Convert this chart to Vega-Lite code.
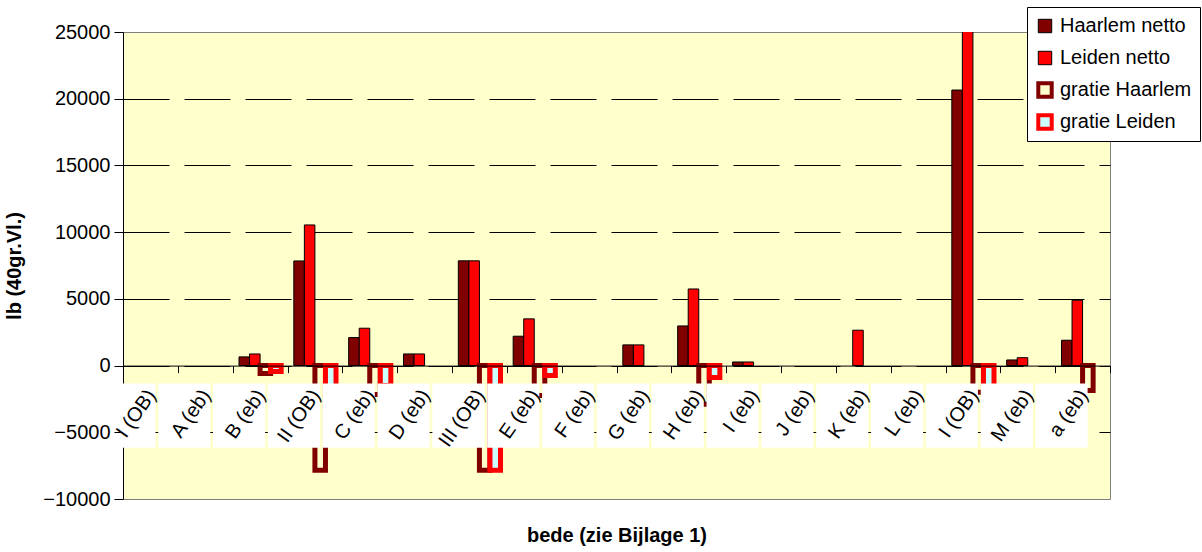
{
  "$schema": "https://vega.github.io/schema/vega-lite/v6.json",
  "autosize": {"type": "none"},
  "padding": {"left": 123, "top": 32, "right": 92, "bottom": 53},
  "width": 987,
  "height": 467,
  "background": "white",
  "config": {
    "font": "Liberation Sans",
    "view": {"fill": "#FFFFCC", "stroke": "#808080", "strokeWidth": 1}
  },
  "datasets": {
    "bede": [
      {"n": 1, "bede": "I (OB)"}, {"n": 2, "bede": "A (eb)"}, {"n": 3, "bede": "B (eb)"},
      {"n": 4, "bede": "II (OB)"}, {"n": 5, "bede": "C (eb)"}, {"n": 6, "bede": "D (eb)"},
      {"n": 7, "bede": "III (OB)"}, {"n": 8, "bede": "E (eb)"}, {"n": 9, "bede": "F (eb)"},
      {"n": 10, "bede": "G (eb)"}, {"n": 11, "bede": "H (eb)"}, {"n": 12, "bede": "I (eb)"},
      {"n": 13, "bede": "J (eb)"}, {"n": 14, "bede": "K (eb)"}, {"n": 15, "bede": "L (eb)"},
      {"n": 16, "bede": "I (OB)"}, {"n": 17, "bede": "M (eb)"}, {"n": 18, "bede": "a (eb)"}
    ],
    "waarden": [
      {"n": 3, "series": "Haarlem netto", "value": 650},
      {"n": 3, "series": "Leiden netto", "value": 870},
      {"n": 3, "series": "gratie Haarlem", "value": -600},
      {"n": 3, "series": "gratie Leiden", "value": -450},
      {"n": 4, "series": "Haarlem netto", "value": 7840},
      {"n": 4, "series": "Leiden netto", "value": 10540},
      {"n": 4, "series": "gratie Haarlem", "value": -7850},
      {"n": 4, "series": "gratie Leiden", "value": -3000},
      {"n": 5, "series": "Haarlem netto", "value": 2100},
      {"n": 5, "series": "Leiden netto", "value": 2800},
      {"n": 5, "series": "gratie Haarlem", "value": -2160},
      {"n": 5, "series": "gratie Leiden", "value": -1500},
      {"n": 6, "series": "Haarlem netto", "value": 870},
      {"n": 6, "series": "Leiden netto", "value": 870},
      {"n": 7, "series": "Haarlem netto", "value": 7850},
      {"n": 7, "series": "Leiden netto", "value": 7850},
      {"n": 7, "series": "gratie Haarlem", "value": -7850},
      {"n": 7, "series": "gratie Leiden", "value": -7850},
      {"n": 8, "series": "Haarlem netto", "value": 2200},
      {"n": 8, "series": "Leiden netto", "value": 3500},
      {"n": 8, "series": "gratie Haarlem", "value": -2240},
      {"n": 8, "series": "gratie Leiden", "value": -750},
      {"n": 10, "series": "Haarlem netto", "value": 1550},
      {"n": 10, "series": "Leiden netto", "value": 1550},
      {"n": 11, "series": "Haarlem netto", "value": 2970},
      {"n": 11, "series": "Leiden netto", "value": 5740},
      {"n": 11, "series": "gratie Haarlem", "value": -2900},
      {"n": 11, "series": "gratie Leiden", "value": -900},
      {"n": 12, "series": "Haarlem netto", "value": 270},
      {"n": 12, "series": "Leiden netto", "value": 270},
      {"n": 14, "series": "Leiden netto", "value": 2650},
      {"n": 16, "series": "Haarlem netto", "value": 20650},
      {"n": 16, "series": "Leiden netto", "value": 25500},
      {"n": 16, "series": "gratie Haarlem", "value": -2000},
      {"n": 16, "series": "gratie Leiden", "value": -1800},
      {"n": 17, "series": "Haarlem netto", "value": 420},
      {"n": 17, "series": "Leiden netto", "value": 590},
      {"n": 18, "series": "Haarlem netto", "value": 1900},
      {"n": 18, "series": "Leiden netto", "value": 4900},
      {"n": 18, "series": "gratie Haarlem", "value": -1870}
    ]
  },
  "layer": [
    {
      "data": {"name": "waarden"},
      "mark": {"type": "bar", "clip": true, "orient": "vertical"},
      "encoding": {
        "x": {
          "field": "n",
          "type": "ordinal",
          "scale": {"domain": [1,2,3,4,5,6,7,8,9,10,11,12,13,14,15,16,17,18], "paddingInner": 0, "paddingOuter": 0},
          "axis": {
            "orient": "bottom",
            "offset": -133.4,
            "zindex": 1,
            "grid": false,
            "domainColor": "black",
            "tickBand": "extent",
            "tickColor": "black",
            "tickSize": 7,
            "labels": false,
            "title": "bede (zie Bijlage 1)",
            "titleFontSize": 20,
            "titleFontWeight": "bold",
            "titleColor": "black",
            "titleY": 170,
            "titleBaseline": "middle"
          }
        },
        "xOffset": {
          "field": "series",
          "type": "nominal",
          "scale": {"domain": ["Haarlem netto", "Leiden netto", "gratie Haarlem", "gratie Leiden"], "paddingInner": 0, "paddingOuter": 0.6}
        },
        "y": {
          "field": "value",
          "type": "quantitative",
          "scale": {"domain": [-10000, 25000], "nice": false},
          "axis": {
            "title": "lb (40gr.Vl.)",
            "values": [-10000, -5000, 0, 5000, 10000, 15000, 20000, 25000],
            "format": "d",
            "labelFontSize": 20,
            "labelColor": "black",
            "labelPadding": 4,
            "domainColor": "black",
            "tickColor": "black",
            "tickSize": 9,
            "grid": true,
            "gridColor": "black",
            "gridDash": [46, 15],
            "gridWidth": 1,
            "gridOpacity": {"condition": {"test": "datum.value == -10000 || datum.value == 25000", "value": 0}, "value": 1},
            "titleFontSize": 20,
            "titleFontWeight": "bold",
            "titleColor": "black",
            "titlePadding": 18
          }
        },
        "fill": {
          "field": "series",
          "type": "nominal",
          "scale": {"domain": ["Haarlem netto", "Leiden netto", "gratie Haarlem", "gratie Leiden"], "range": ["#800000", "#FF0000", "#FFFFCC", "#CCFFFF"]},
          "legend": {
            "title": null, "orient": "none", "legendX": 904, "legendY": -25,
            "fillColor": "white", "strokeColor": "black", "padding": 8,
            "symbolType": "square", "symbolSize": 180, "labelFontSize": 20, "labelColor": "black",
            "rowPadding": 10, "clipHeight": 22, "labelOffset": 5, "labelLimit": 300,
            "encode": {"symbols": {"update": {"strokeWidth": {"signal": "datum.value == 'gratie Haarlem' || datum.value == 'gratie Leiden' ? 4 : 1"}}}}
          }
        },
        "stroke": {
          "field": "series",
          "type": "nominal",
          "scale": {"domain": ["Haarlem netto", "Leiden netto", "gratie Haarlem", "gratie Leiden"], "range": ["#000000", "#000000", "#800000", "#FF0000"]},
          "legend": {
            "title": null, "orient": "none", "legendX": 904, "legendY": -25,
            "fillColor": "white", "strokeColor": "black", "padding": 8,
            "symbolType": "square", "symbolSize": 180, "labelFontSize": 20, "labelColor": "black",
            "rowPadding": 10, "clipHeight": 22, "labelOffset": 5, "labelLimit": 300,
            "encode": {"symbols": {"update": {"strokeWidth": {"signal": "datum.value == 'gratie Haarlem' || datum.value == 'gratie Leiden' ? 4 : 1"}}}}
          }
        },
        "strokeWidth": {"condition": {"test": "datum.value < 0", "value": 5}, "value": 1}
      }
    },
    {
      "data": {"name": "bede"},
      "mark": {"type": "bar", "fill": "white", "clip": true, "xOffset": -21, "width": {"band": 0.95}},
      "encoding": {
        "x": {"field": "n", "type": "ordinal"},
        "y": {"datum": -1350},
        "y2": {"datum": -6150}
      }
    },
    {
      "data": {"name": "bede"},
      "mark": {"type": "text", "angle": -55, "align": "right", "baseline": "middle", "fontSize": 20, "color": "black", "dx": 2},
      "encoding": {
        "x": {"field": "n", "type": "ordinal"},
        "y": {"datum": -2100},
        "text": {"field": "bede"}
      }
    }
  ]
}
